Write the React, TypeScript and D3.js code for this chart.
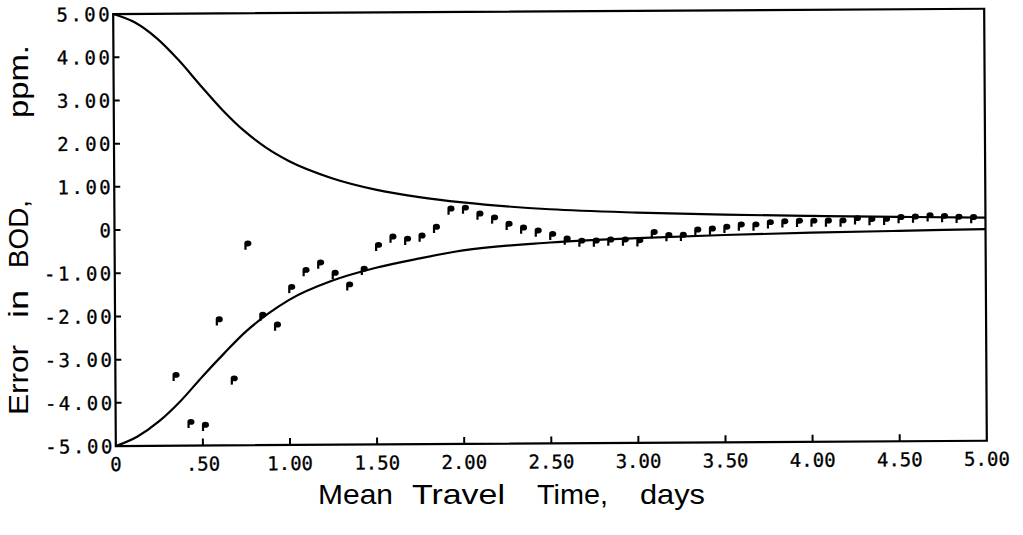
import React from "react";
import * as d3 from "d3";

// ---- data ----
const xTickValues = [0, 0.5, 1, 1.5, 2, 2.5, 3, 3.5, 4, 4.5, 5];
const xTickLabels = ["0", ".50", "1.00", "1.50", "2.00", "2.50", "3.00", "3.50", "4.00", "4.50", "5.00"];
const yTickValues = [-5, -4, -3, -2, -1, 0, 1, 2, 3, 4, 5];
const yTickLabels = ["-5.00", "-4.00", "-3.00", "-2.00", "-1.00", "0", "1.00", "2.00", "3.00", "4.00", "5.00"];

const curveTimes = [0, 0.125, 0.25, 0.375, 0.5, 0.625, 0.75, 0.875, 1.0, 1.25, 1.5, 1.75, 2.0, 2.5, 3.0, 3.5, 4.0, 4.5, 5.0];
const upperBound = [5.0, 4.8, 4.43, 3.92, 3.33, 2.76, 2.27, 1.88, 1.58, 1.17, 0.9, 0.72, 0.59, 0.42, 0.33, 0.27, 0.23, 0.195, 0.165];
const lowerBound = [-5.0, -4.78, -4.43, -3.96, -3.4, -2.87, -2.37, -1.97, -1.64, -1.2, -0.91, -0.7, -0.52, -0.35, -0.26, -0.2, -0.16, -0.13, -0.1];

const pointTimes = [
  0.333, 0.417, 0.5, 0.583, 0.667, 0.75, 0.833, 0.917, 1.0, 1.083, 1.167, 1.25, 1.333, 1.417,
  1.5, 1.583, 1.667, 1.75, 1.833, 1.917, 2.0, 2.083, 2.167, 2.25, 2.333, 2.417, 2.5, 2.583,
  2.667, 2.75, 2.833, 2.917, 3.0, 3.083, 3.167, 3.25, 3.333, 3.417, 3.5, 3.583, 3.667, 3.75,
  3.833, 3.917, 4.0, 4.083, 4.167, 4.25, 4.333, 4.417, 4.5, 4.583, 4.667, 4.75, 4.833, 4.917,
];
const pointErrors = [
  -3.37, -4.46, -4.53, -2.09, -3.46, -0.34, -1.99, -2.22, -1.35, -0.96, -0.79, -1.03, -1.3, -0.94,
  -0.39, -0.2, -0.25, -0.18, 0.02, 0.44, 0.46, 0.32, 0.23, 0.08, -0.01, -0.08, -0.16, -0.27,
  -0.32, -0.32, -0.3, -0.3, -0.32, -0.13, -0.2, -0.2, -0.08, -0.06, -0.02, 0.03, 0.03, 0.08,
  0.1, 0.11, 0.11, 0.11, 0.11, 0.16, 0.14, 0.14, 0.18, 0.19, 0.22, 0.2, 0.18, 0.17,
];

const xLabelWords = ["Mean", "Travel", "Time,", "days"];
const yLabelWords = ["Error", "in", "BOD,", "ppm."];

// ---- layout ----
const W = 1023;
const H = 535;
const left = 114.5;
const right = 985.5;
const top = 11.4;
const bottom = 443.4;

const x = d3.scaleLinear().domain([0, 5]).range([left, right]);
const y = d3.scaleLinear().domain([-5, 5]).range([bottom, top]);

const line = d3
  .line<number>()
  .x((_, i) => x(curveTimes[i]))
  .y((d) => y(d))
  .curve(d3.curveMonotoneX);

function markerPath(px: number, py: number) {
  return `M${px - 0.9},${py + 5.8} L${px - 0.9},${py - 0.8} Q${px - 0.9},${py - 3.4} ${px + 2.6},${py - 3.4} Q${px + 6.2},${py - 3.4} ${px + 6.2},${py - 0.3} Q${px + 6.2},${py + 2.5} ${px + 2.6},${py + 2.5} L${px + 1.3},${py + 2.5} L${px + 1.3},${py + 5.8} Z`;
}

const xWordStarts = [318, 412, 537, 640];
const xWordLengths = [75, 93, 71, 65];
const yWordStarts = [415, 318, 268, 118];
const yWordLengths = [70, 28, 68, 73];

export default function App() {
  return (
    <svg
      width={W}
      height={H}
      viewBox={`0 0 ${W} ${H}`}
      style={{ position: "absolute", left: 0, top: 0, background: "#fff" }}
    >
      <rect x={0} y={0} width={W} height={H} fill="#fff" />
      <g transform="rotate(-0.35, 551, 227.4)">
        {/* frame */}
        <rect x={left} y={top} width={right - left} height={bottom - top} fill="none" stroke="#000" strokeWidth={2.2} />
        {/* x ticks */}
        {xTickValues.map((v, i) => (
          <g key={"xt" + i}>
            {i > 0 && i < xTickValues.length - 1 && (
              <line x1={x(v)} x2={x(v)} y1={bottom} y2={bottom - 7} stroke="#000" strokeWidth={2} />
            )}
            <text
              x={x(v)}
              y={bottom + 25}
              textAnchor="middle"
              fontFamily="'DejaVu Sans Mono', monospace"
              fontSize={19}
              stroke="#000"
              strokeWidth={0.3}
              fill="#000"
            >
              {xTickLabels[i]}
            </text>
          </g>
        ))}
        {/* y ticks */}
        {yTickValues.map((v, i) => (
          <g key={"yt" + i}>
            {i > 0 && i < yTickValues.length - 1 && (
              <line x1={left} x2={left + 6} y1={y(v)} y2={y(v)} stroke="#000" strokeWidth={2} />
            )}
            <text
              x={left - 1}
              y={y(v) + 7}
              textAnchor="end"
              fontFamily="'DejaVu Sans Mono', monospace"
              fontSize={19}
              letterSpacing={2.5}
              stroke="#000"
              strokeWidth={0.3}
              fill="#000"
            >
              {yTickLabels[i]}
            </text>
          </g>
        ))}
        {/* curves */}
        <path d={line(upperBound) || ""} fill="none" stroke="#000" strokeWidth={2.2} />
        <path d={line(lowerBound) || ""} fill="none" stroke="#000" strokeWidth={2.2} />
        {/* points */}
        {pointTimes.map((t, i) => (
          <path key={"p" + i} d={markerPath(x(t), y(pointErrors[i]))} fill="#000" />
        ))}
      </g>
      {/* x label */}
      {xLabelWords.map((w, i) => (
        <text
          key={"xw" + i}
          x={xWordStarts[i]}
          y={504}
          fontFamily="'Liberation Sans', Arial, sans-serif"
          fontSize={28}
          textLength={xWordLengths[i]}
          lengthAdjust="spacingAndGlyphs"
          fill="#000"
        >
          {w}
        </text>
      ))}
      {/* y label */}
      {yLabelWords.map((w, i) => (
        <text
          key={"yw" + i}
          transform={`translate(28, ${yWordStarts[i]}) rotate(-90)`}
          x={0}
          y={0}
          fontFamily="'Liberation Sans', Arial, sans-serif"
          fontSize={28}
          textLength={yWordLengths[i]}
          lengthAdjust="spacingAndGlyphs"
          fill="#000"
        >
          {w}
        </text>
      ))}
    </svg>
  );
}
